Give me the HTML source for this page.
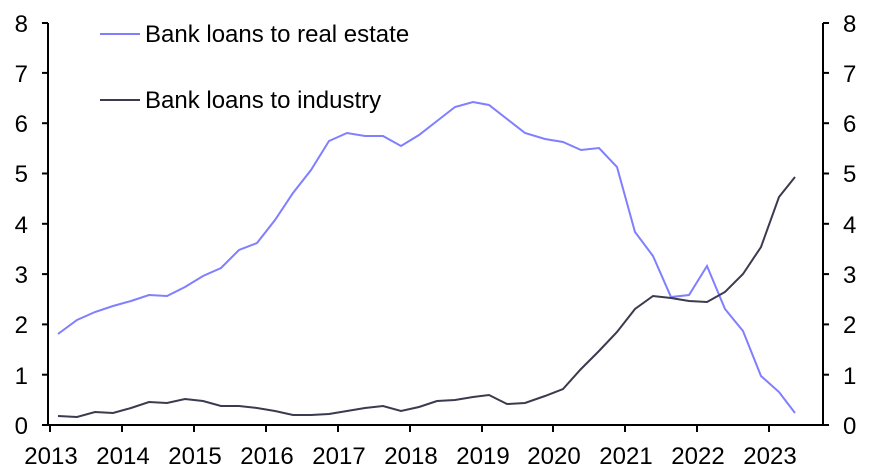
<!DOCTYPE html>
<html><head><meta charset="utf-8"><style>
html,body{margin:0;padding:0;background:#fff;}
svg{display:block;font-family:"Liberation Sans",Arial,sans-serif;}
</style></head><body>
<svg width="872" height="472" viewBox="0 0 872 472" xmlns="http://www.w3.org/2000/svg">
<g stroke="#000" stroke-width="2" fill="none">
<line x1="48" y1="23" x2="48" y2="426"/>
<line x1="823" y1="23" x2="823" y2="426"/>
<line x1="47" y1="425" x2="824" y2="425"/>
</g>
<g stroke="#000" stroke-width="2">
<line x1="42" y1="425" x2="48" y2="425"/><line x1="42" y1="374.7" x2="48" y2="374.7"/><line x1="42" y1="324.4" x2="48" y2="324.4"/><line x1="42" y1="274.1" x2="48" y2="274.1"/><line x1="42" y1="223.8" x2="48" y2="223.8"/><line x1="42" y1="173.5" x2="48" y2="173.5"/><line x1="42" y1="123.2" x2="48" y2="123.2"/><line x1="42" y1="72.9" x2="48" y2="72.9"/><line x1="42" y1="23" x2="48" y2="23"/>
<line x1="823" y1="425" x2="829" y2="425"/><line x1="823" y1="374.7" x2="829" y2="374.7"/><line x1="823" y1="324.4" x2="829" y2="324.4"/><line x1="823" y1="274.1" x2="829" y2="274.1"/><line x1="823" y1="223.8" x2="829" y2="223.8"/><line x1="823" y1="173.5" x2="829" y2="173.5"/><line x1="823" y1="123.2" x2="829" y2="123.2"/><line x1="823" y1="72.9" x2="829" y2="72.9"/><line x1="823" y1="23" x2="829" y2="23"/>
<line x1="50" y1="425" x2="50" y2="432"/><line x1="122" y1="425" x2="122" y2="432"/><line x1="194" y1="425" x2="194" y2="432"/><line x1="266" y1="425" x2="266" y2="432"/><line x1="338" y1="425" x2="338" y2="432"/><line x1="410" y1="425" x2="410" y2="432"/><line x1="482" y1="425" x2="482" y2="432"/><line x1="553" y1="425" x2="553" y2="432"/><line x1="625" y1="425" x2="625" y2="432"/><line x1="697" y1="425" x2="697" y2="432"/><line x1="769" y1="425" x2="769" y2="432"/>
</g>
<g font-size="24" fill="#000" text-anchor="end">
<text x="28" y="434">0</text><text x="28" y="384">1</text><text x="28" y="333">2</text><text x="28" y="283">3</text><text x="28" y="233">4</text><text x="28" y="182">5</text><text x="28" y="132">6</text><text x="28" y="82">7</text><text x="28" y="32">8</text>
</g>
<g font-size="24" fill="#000" text-anchor="start">
<text x="843" y="434">0</text><text x="843" y="384">1</text><text x="843" y="333">2</text><text x="843" y="283">3</text><text x="843" y="233">4</text><text x="843" y="182">5</text><text x="843" y="132">6</text><text x="843" y="82">7</text><text x="843" y="32">8</text>
</g>
<g font-size="24" fill="#000" text-anchor="middle">
<text x="51" y="464">2013</text><text x="123" y="464">2014</text><text x="195" y="464">2015</text><text x="267" y="464">2016</text><text x="339" y="464">2017</text><text x="411" y="464">2018</text><text x="483" y="464">2019</text><text x="554" y="464">2020</text><text x="626" y="464">2021</text><text x="698" y="464">2022</text><text x="770" y="464">2023</text>
</g>
<polyline fill="none" stroke="#7f7fff" stroke-width="2" points="58,334 77,320 95,312 113,306 131,301 149,295 167,296 185,287 203,276 221,268 239,250 257,243 275,220 293,193 311,170 329,141 347,133 365,136 383,136 401,146 419,135 437,121 455,107 473,102 489,105 507,119 525,133 545,139 563,142 581,150 599,148 617,167 635,232 653,256 671,297 689,295 707,266 725,309 743,331 761,376 779,392 795,413"/>
<polyline fill="none" stroke="#3b3b4f" stroke-width="2" points="58,416 77,417 95,412 113,413 131,408 149,402 167,403 185,399 203,401 221,406 239,406 257,408 275,411 293,415 311,415 329,414 347,411 365,408 383,406 401,411 419,407 437,401 455,400 473,397 489,395 507,404 525,403 545,396 563,389 581,369 599,351 617,332 635,309 653,296 671,298 689,301 707,302 725,292 743,274 761,247 779,197 795,177"/>
<line x1="100" y1="34" x2="140" y2="34" stroke="#7f7fff" stroke-width="2"/>
<line x1="100" y1="100" x2="140" y2="100" stroke="#3b3b4f" stroke-width="2"/>
<g font-size="24" fill="#000">
<text x="145" y="42">Bank loans to real estate</text>
<text x="145" y="108">Bank loans to industry</text>
</g>
</svg>
</body></html>
